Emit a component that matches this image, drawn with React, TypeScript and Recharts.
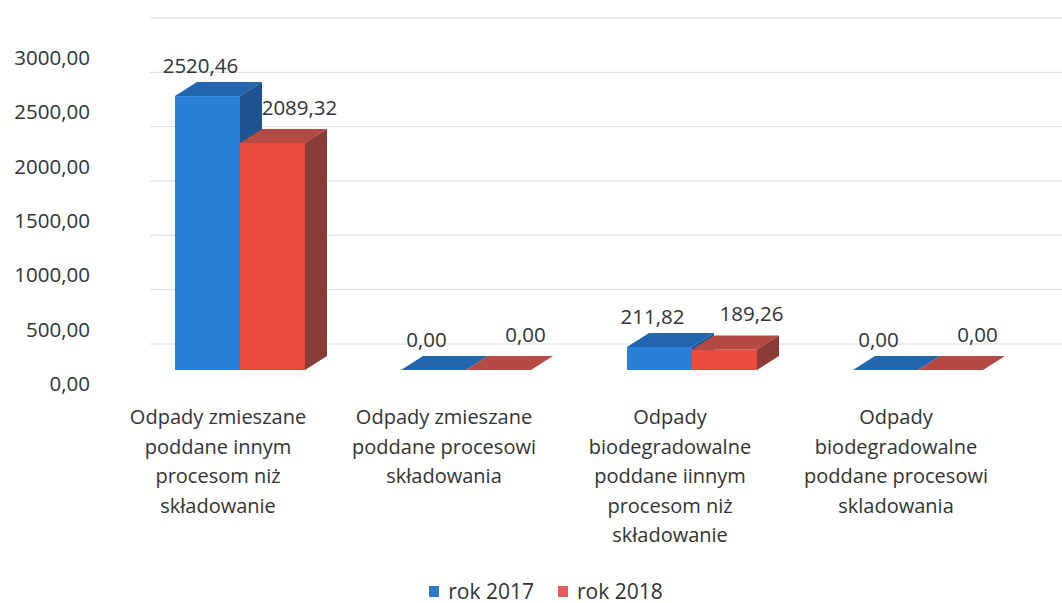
import React from 'react';
import { BarChart, Bar, XAxis, YAxis, CartesianGrid, Legend, LabelList } from 'recharts';

const CATEGORIES = [
  'Odpady zmieszane\npoddane innym\nprocesom niż\nskładowanie',
  'Odpady zmieszane\npoddane procesowi\nskładowania',
  'Odpady\nbiodegradowalne\npoddane iinnym\nprocesom niż\nskładowanie',
  'Odpady\nbiodegradowalne\npoddane procesowi\nskladowania',
];
const ROK_2017 = [2520.46, 0, 211.82, 0];
const ROK_2018 = [2089.32, 0, 189.26, 0];
const Y_TICKS = [0, 500, 1000, 1500, 2000, 2500, 3000];
const Y_MAX = 3000;
const SERIES = ['rok 2017', 'rok 2018'];

const data = CATEGORIES.map((name, i) => ({ name, r2017: ROK_2017[i], r2018: ROK_2018[i] }));

const FONT = '"Open Sans", sans-serif';
const TEXT = '#333';
const DX = 22;
const DY = -14;

const BLUE = { front: '#2a7fd6', top: '#2366b0', side: '#1c5390', legend: '#2c7ccc' };
const RED = { front: '#ea4b3e', top: '#b44a42', side: '#8a3b36', legend: '#e35d5d' };

const fmt = (v: number) => v.toFixed(2).replace('.', ',');

const Box3D = (props: any) => {
  const { x, y, width: w, height: h, colors } = props;
  if (x == null || y == null) return null;
  return (
    <g>
      <rect x={x} y={y} width={w} height={Math.max(h, 0)} fill={colors.front} />
      <polygon
        points={`${x},${y} ${x + DX},${y + DY} ${x + w + DX},${y + DY} ${x + w},${y}`}
        fill={colors.top}
      />
      <polygon
        points={`${x + w},${y} ${x + w + DX},${y + DY} ${x + w + DX},${y + h + DY} ${x + w},${y + h}`}
        fill={colors.side}
      />
    </g>
  );
};

const valueLabel = (dx: number, dy: number) => (props: any) => {
  const { x, y, width, value } = props;
  return (
    <text
      x={x + width / 2 + dx}
      y={y + dy}
      textAnchor="middle"
      dominantBaseline="central"
      fontFamily={FONT}
      fontSize={20.5}
      fill={TEXT}
    >
      {fmt(value)}
    </text>
  );
};

const YTick = (props: any) => {
  const { y, payload } = props;
  return (
    <text x={90} y={y + 13} textAnchor="end" dominantBaseline="central" fontFamily={FONT} fontSize={20.5} fill={TEXT}>
      {fmt(payload.value)}
    </text>
  );
};

const XTick = (props: any) => {
  const { x, payload } = props;
  const lines = String(payload.value).split('\n');
  return (
    <text x={x - 22} textAnchor="middle" fontFamily={FONT} fontSize={20} fill={TEXT}>
      {lines.map((l, i) => (
        <tspan key={i} x={x - 22} y={424 + i * 29.5}>
          {l}
        </tspan>
      ))}
    </text>
  );
};

const LegendContent = () => {
  const cols = [BLUE.legend, RED.legend];
  return (
    <div style={{ display: 'flex', justifyContent: 'center', fontFamily: FONT, fontSize: 21, color: TEXT, height: 30, paddingLeft: 30 }}>
      {SERIES.map((s, i) => (
        <div key={s} style={{ display: 'flex', alignItems: 'center', marginRight: i === 0 ? 24 : 0 }}>
          <span style={{ width: 10, height: 11, background: cols[i], display: 'inline-block', marginRight: 9 }} />
          <span>{s}</span>
        </div>
      ))}
    </div>
  );
};

// back-wall gridlines sit a bit higher than the front face scale
const gridLines = ({ offset }: any) =>
  Y_TICKS.map((t) => offset.top + offset.height * (1 - t / Y_MAX) - 26);

export default function App() {
  return (
    <div style={{ position: 'absolute', left: 0, top: 0, background: '#fff' }}>
      <BarChart
        width={1062}
        height={603}
        data={data}
        margin={{ top: 44, right: 31, left: 90, bottom: 50 }}
        barGap={0}
        barSize={65}
      >
        <CartesianGrid
          vertical={false}
          stroke="#dcdcdc"
          x={150}
          width={912}
          horizontalCoordinatesGenerator={gridLines}
        />
        <XAxis dataKey="name" axisLine={false} tickLine={false} height={150} interval={0} tick={<XTick />} />
        <YAxis
          domain={[0, Y_MAX]}
          ticks={Y_TICKS}
          width={37}
          axisLine={false}
          tickLine={false}
          tick={<YTick />}
        />
        <Legend
          verticalAlign="bottom"
          height={33}
          wrapperStyle={{ bottom: -6, left: 0, width: 1062 }}
          content={<LegendContent />}
        />
        <Bar dataKey="r2017" name={SERIES[0]} isAnimationActive={false} shape={(p: any) => <Box3D {...p} colors={BLUE} />}>
          <LabelList dataKey="r2017" content={valueLabel(-7, -31)} />
        </Bar>
        <Bar dataKey="r2018" name={SERIES[1]} isAnimationActive={false} shape={(p: any) => <Box3D {...p} colors={RED} />}>
          <LabelList dataKey="r2018" content={valueLabel(27, -36)} />
        </Bar>
      </BarChart>
    </div>
  );
}
